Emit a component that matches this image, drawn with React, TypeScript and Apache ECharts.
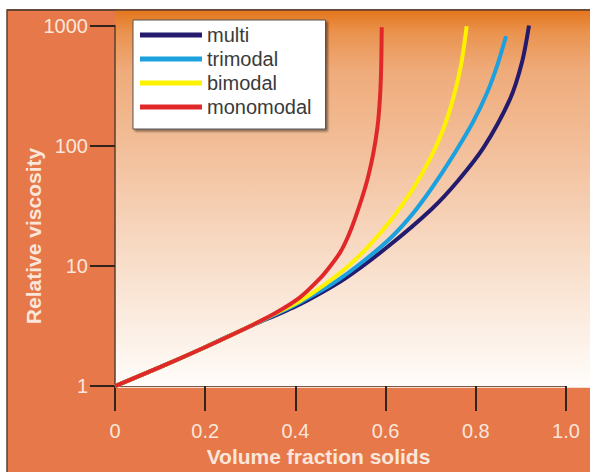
import React, { useEffect, useRef } from "react";
import * as echarts from "echarts";

const seriesNames = ["multi", "trimodal", "bimodal", "monomodal"];
const seriesColors = ["#241a6e", "#1ca0de", "#fff200", "#e0282a"];

const multiX = [0, 0.0998, 0.1996, 0.2993, 0.3659, 0.4102, 0.51, 0.6053, 0.7029, 0.7605, 0.8182, 0.8758, 0.9024, 0.918];
const multiY = [1, 1.437, 2.105, 3.15, 4.03, 4.79, 7.86, 14.5, 29.9, 51.1, 97.7, 244, 495, 1000];

const trimodalX = [0, 0.0998, 0.1996, 0.2993, 0.3659, 0.4102, 0.4834, 0.5499, 0.6098, 0.6585, 0.7029, 0.7494, 0.7938, 0.8248, 0.847, 0.867];
const trimodalY = [1, 1.437, 2.105, 3.15, 4.11, 4.97, 7.15, 10.88, 16.9, 26.7, 44.7, 82.3, 157.5, 274, 459, 814];

const bimodalX = [0, 0.0998, 0.1996, 0.2993, 0.3659, 0.4102, 0.4656, 0.5211, 0.5654, 0.6142, 0.6608, 0.6984, 0.7273, 0.7494, 0.7672, 0.7798];
const bimodalY = [1, 1.437, 2.105, 3.15, 4.19, 5.1, 7.01, 10.27, 15.05, 24.7, 43.8, 77.7, 135, 244, 468, 985];

const monoX = [0, 0.0998, 0.1996, 0.2993, 0.3548, 0.4102, 0.4545, 0.4767, 0.4989, 0.5166, 0.5322, 0.5565, 0.5721, 0.582, 0.5876, 0.5902, 0.5914];
const monoY = [1, 1.437, 2.105, 3.15, 4.03, 5.47, 7.86, 9.89, 12.9, 17.5, 24.7, 47.3, 83.9, 143, 254, 450, 966];

const xTicks = [0, 0.2, 0.4, 0.6, 0.8, 1.0];
const yTicks = [1, 10, 100, 1000];

const xTitle = "Volume fraction solids";
const yTitle = "Relative viscosity";

const FONT = "'Liberation Sans', Arial, Helvetica, sans-serif";
const LABEL = "#fae6da";

function pairs(xs: number[], ys: number[]) {
  return xs.map((x, i) => [x, ys[i]]);
}

export default function App() {
  const ref = useRef<HTMLDivElement>(null);
  useEffect(() => {
    if (!ref.current) return;
    const chart = echarts.init(ref.current, null, { renderer: "svg" });
    const allX = [multiX, trimodalX, bimodalX, monoX];
    const allY = [multiY, trimodalY, bimodalY, monoY];
    chart.setOption({
      animation: false,
      textStyle: { fontFamily: FONT },
      graphic: [
        {
          type: "rect",
          z: -10,
          shape: { x: 7, y: 10, width: 600, height: 480 },
          style: { fill: "#e6784a", stroke: "#5a3f30", lineWidth: 1.5 },
        },
        {
          type: "rect",
          z: -9,
          shape: { x: 115, y: 10, width: 480, height: 377.7 },
          style: {
            fill: new echarts.graphic.LinearGradient(0, 0, 0, 1, [
              { offset: 0, color: "#e4761c" },
              { offset: 0.06, color: "#ea934f" },
              { offset: 0.16, color: "#efab7a" },
              { offset: 0.4, color: "#f3c29f" },
              { offset: 0.65, color: "#f8dcc7" },
              { offset: 1, color: "#fffdfb" },
            ]),
          },
        },
        {
          type: "line",
          z: -8,
          shape: { x1: 7, y1: 10, x2: 600, y2: 10 },
          style: { stroke: "#5a3f30", lineWidth: 1.5 },
        },
        {
          type: "text",
          z: 10,
          x: 33,
          y: 236,
          rotation: Math.PI / 2,
          style: {
            text: yTitle,
            fill: LABEL,
            font: `bold 21px ${FONT}`,
            align: "center",
            verticalAlign: "middle",
          },
        },
      ],
      grid: { left: 115, top: 25.5, right: 24, bottom: 84.3 },
      legend: {
        orient: "vertical",
        left: 133,
        top: 20,
        data: seriesNames,
        icon: "rect",
        itemWidth: 62,
        itemHeight: 5,
        itemGap: 4,
        padding: [5, 14, 12, 7],
        backgroundColor: "#ffffff",
        borderColor: "#555555",
        borderWidth: 1,
        shadowColor: "rgba(0,0,0,0.45)",
        shadowBlur: 2,
        shadowOffsetX: 2,
        shadowOffsetY: 2,
        textStyle: { color: "#3a3a3a", fontSize: 20, fontFamily: FONT },
      },
      xAxis: {
        type: "value",
        min: xTicks[0],
        max: xTicks[xTicks.length - 1],
        interval: 0.2,
        axisLine: { show: true, lineStyle: { color: "#7a5a48", width: 1 } },
        axisTick: { show: true, length: 25, lineStyle: { color: "#33241b", width: 2 } },
        splitLine: { show: false },
        axisLabel: {
          color: LABEL,
          fontSize: 20,
          fontFamily: FONT,
          margin: 35,
          formatter: (v: number) => (v === 0 ? "0" : v.toFixed(1)),
        },
        name: xTitle,
        nameLocation: "middle",
        nameGap: 58,
        nameTextStyle: {
          color: LABEL,
          fontSize: 21,
          fontWeight: "bold",
          fontFamily: FONT,
          padding: [0, 44, 0, 0],
        },
      },
      yAxis: {
        type: "log",
        logBase: 10,
        min: yTicks[0],
        max: yTicks[yTicks.length - 1],
        splitNumber: 3,
        axisLine: { show: true, lineStyle: { color: "#5a3f30", width: 1.5 } },
        axisTick: { show: true, length: 25, lineStyle: { color: "#33241b", width: 2 } },
        splitLine: { show: false },
        axisLabel: {
          color: LABEL,
          fontSize: 20,
          fontFamily: FONT,
          margin: 27,
          formatter: (v: number) => String(Math.round(v)),
        },
      },
      series: seriesNames.map((name, i) => ({
        name,
        type: "line",
        data: pairs(allX[i], allY[i]),
        showSymbol: false,
        symbol: "none",
        smooth: 0.3,
        lineStyle: { color: seriesColors[i], width: 4 },
        itemStyle: { color: seriesColors[i] },
      })),
    });
    return () => chart.dispose();
  }, []);
  return (
    <div
      ref={ref}
      style={{ position: "fixed", left: 0, top: 0, width: 590, height: 472, background: "#ffffff" }}
    />
  );
}
